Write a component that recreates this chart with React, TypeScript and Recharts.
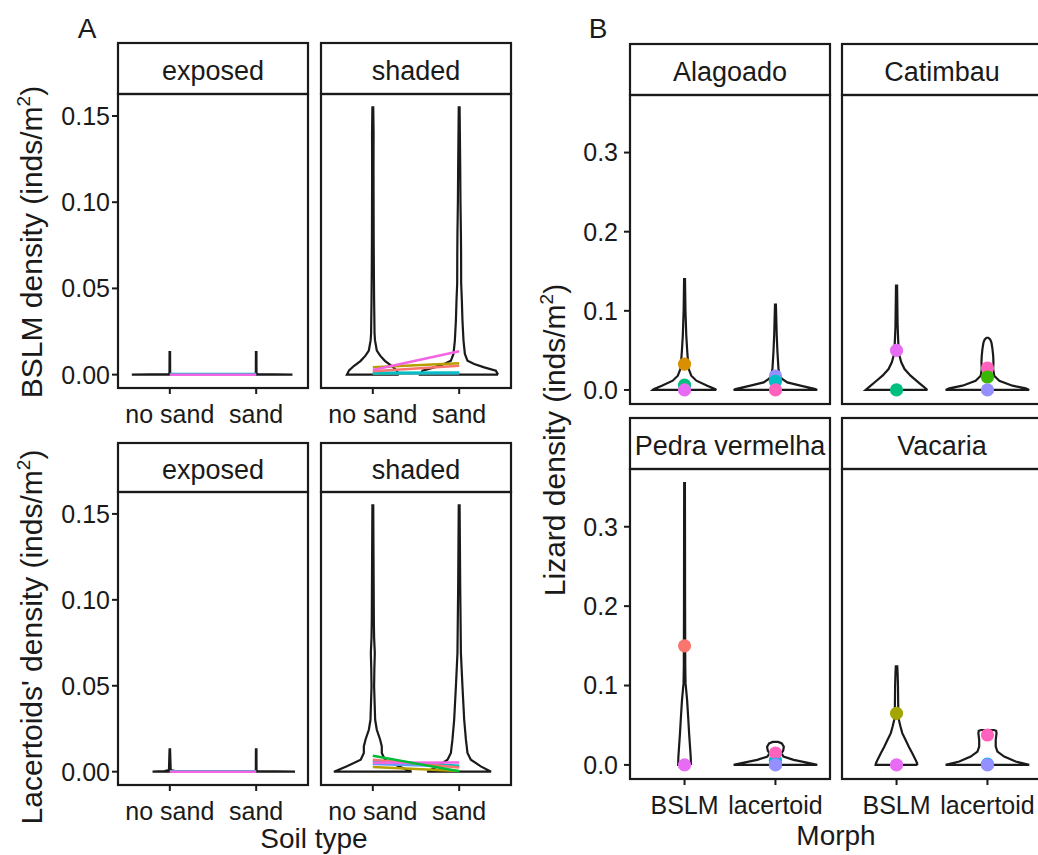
import React from 'react';
import { ComposedChart, Scatter, XAxis, YAxis } from 'recharts';

const FONT = '"Liberation Sans", Arial, Helvetica, sans-serif';
const INK = '#1a1a1a';

// categories and ticks
const soilTypes = ['no sand', 'sand'];
const morphs = ['BSLM', 'lacertoid'];
const lightLevels = ['exposed', 'shaded'];
const localities = ['Alagoado', 'Catimbau', 'Pedra vermelha', 'Vacaria'];
const ticksA = [0, 0.05, 0.1, 0.15];
const ticksB = [0, 0.1, 0.2, 0.3];
const domainA = [-0.00775, 0.16275];
const domainB = [-0.01775, 0.37275];

// site colours (ggplot hue)
const sitesA: Record<string, string> = {
  s1: '#F8766D', s2: '#B79F00', s3: '#00BA38', s4: '#00BFC4', s5: '#619CFF', s6: '#F564E3',
};
const sitesB: Record<string, string> = {
  g1: '#F8766D', g2: '#D89000', g3: '#A3A500', g4: '#39B600', g5: '#00BF7D',
  g6: '#00BFC4', g7: '#00B0F6', g8: '#9590FF', g9: '#E76BF3', g10: '#FF62BC',
};

// violin outlines: [density, half width in category units]
const bslmExposedNoSand = [[0, 0.44], [0.0003, 0.015], [0.001, 0.004], [0.013, 0.003]];
const bslmExposedSand = [[0, 0.42], [0.0003, 0.015], [0.001, 0.004], [0.013, 0.003]];
const bslmShadedNoSand = [
  [0, 0.3], [0.001, 0.29], [0.0025, 0.275], [0.005, 0.22], [0.008, 0.14], [0.011, 0.085],
  [0.014, 0.046], [0.02, 0.025], [0.024, 0.02], [0.043, 0.015], [0.062, 0.012], [0.08, 0.01],
  [0.1, 0.009], [0.12, 0.008], [0.14, 0.009], [0.155, 0.005],
];
const bslmShadedSand = [
  [0, 0.45], [0.0023, 0.425], [0.0042, 0.29], [0.0062, 0.174], [0.0081, 0.096], [0.012, 0.066],
  [0.0198, 0.05], [0.0314, 0.038], [0.043, 0.031], [0.053, 0.023], [0.07, 0.022], [0.082, 0.02],
  [0.1, 0.015], [0.12, 0.012], [0.155, 0.005],
];
const lacExposedNoSand = [[0, 0.2], [0.0003, 0.06], [0.001, 0.01], [0.013, 0.003]];
const lacExposedSand = [[0, 0.45], [0.0003, 0.015], [0.001, 0.004], [0.013, 0.003]];
const lacShadedNoSand = [
  [0, 0.45], [0.0031, 0.3], [0.007, 0.14], [0.0109, 0.104], [0.0147, 0.104], [0.0186, 0.085],
  [0.0244, 0.046], [0.0302, 0.027], [0.0496, 0.015], [0.06, 0.018], [0.069, 0.023], [0.078, 0.015],
  [0.088, 0.012], [0.127, 0.008], [0.155, 0.005],
];
const lacShadedSand = [
  [0, 0.37], [0.0031, 0.25], [0.007, 0.135], [0.0109, 0.096], [0.0186, 0.078], [0.0302, 0.058],
  [0.0496, 0.038], [0.069, 0.02], [0.107, 0.012], [0.155, 0.005],
];

const alagoadoBSLM = [
  [0, 0.35], [0.001, 0.34], [0.0054, 0.25], [0.0117, 0.13], [0.018, 0.074], [0.027, 0.044],
  [0.048, 0.03], [0.069, 0.019], [0.1, 0.01], [0.14, 0.005],
];
const alagoadoLac = [
  [0, 0.46], [0.001, 0.44], [0.0054, 0.275], [0.0096, 0.13], [0.0138, 0.074], [0.018, 0.047],
  [0.027, 0.033], [0.048, 0.022], [0.069, 0.014], [0.108, 0.005],
];
const catimbauBSLM = [
  [0, 0.34], [0.004, 0.3], [0.0097, 0.24], [0.018, 0.154], [0.0264, 0.088], [0.035, 0.052],
  [0.043, 0.033], [0.052, 0.022], [0.08, 0.012], [0.132, 0.006],
];
const catimbauLac = [
  [0, 0.46], [0.002, 0.42], [0.0054, 0.275], [0.0117, 0.13], [0.018, 0.074], [0.0264, 0.063],
  [0.035, 0.066], [0.043, 0.063], [0.052, 0.055], [0.06, 0.044], [0.064, 0.03], [0.066, 0.01],
];
const pedraBSLM = [
  [0, 0.07], [0.01, 0.068], [0.04, 0.05], [0.06, 0.04], [0.082, 0.028], [0.103, 0.011],
  [0.124, 0.008], [0.2, 0.006], [0.3, 0.005], [0.355, 0.004],
];
const pedraLac = [
  [0, 0.46], [0.002, 0.385], [0.0063, 0.2], [0.0105, 0.088], [0.0147, 0.066], [0.018, 0.085],
  [0.023, 0.092], [0.027, 0.07], [0.029, 0.03],
];
const vacariaBSLM = [
  [0, 0.23], [0.0025, 0.225], [0.0063, 0.21], [0.0147, 0.173], [0.023, 0.135], [0.0314, 0.1],
  [0.04, 0.063], [0.048, 0.044], [0.057, 0.025], [0.065, 0.019], [0.098, 0.016], [0.115, 0.012],
  [0.124, 0.008],
];
const vacariaLac = [
  [0, 0.46], [0.0042, 0.31], [0.0105, 0.184], [0.0168, 0.11], [0.023, 0.091], [0.0314, 0.091],
  [0.04, 0.1], [0.043, 0.095], [0.044, 0.07],
];

// site means joined across soil type: [site, no sand, sand]
const bslmExposedLines: [string, number, number][] = [['s4', 0.0003, 0.0003], ['s6', 0, 0]];
const bslmShadedLines: [string, number, number][] = [
  ['s3', 0.0005, 0.0008], ['s5', 0.0008, 0.0008], ['s4', 0.0011, 0.0012],
  ['s1', 0.002, 0.0052], ['s2', 0.0043, 0.0066], ['s6', 0.0027, 0.0136],
];
const lacExposedLines: [string, number, number][] = [['s4', 0.0002, 0.0002], ['s6', 0, 0]];
const lacShadedLines: [string, number, number][] = [
  ['s2', 0.0027, 0.0004], ['s5', 0.0045, 0.003], ['s4', 0.0062, 0.0035],
  ['s1', 0.007, 0.0025], ['s6', 0.0052, 0.0054], ['s3', 0.0093, 0.0002],
];

// site means per morph: [site, morph, density]
const alagoadoPoints: [string, string, number][] = [
  ['g2', 'BSLM', 0.0327], ['g5', 'BSLM', 0.006], ['g9', 'BSLM', 0],
  ['g8', 'lacertoid', 0.0176], ['g6', 'lacertoid', 0.011], ['g10', 'lacertoid', 0],
];
const catimbauPoints: [string, string, number][] = [
  ['g9', 'BSLM', 0.05], ['g5', 'BSLM', 0],
  ['g10', 'lacertoid', 0.0277], ['g4', 'lacertoid', 0.0164], ['g8', 'lacertoid', 0],
];
const pedraPoints: [string, string, number][] = [
  ['g1', 'BSLM', 0.15], ['g9', 'BSLM', 0],
  ['g6', 'lacertoid', 0.006], ['g10', 'lacertoid', 0.015], ['g7', 'lacertoid', 0.001], ['g8', 'lacertoid', 0],
];
const vacariaPoints: [string, string, number][] = [
  ['g3', 'BSLM', 0.065], ['g9', 'BSLM', 0],
  ['g10', 'lacertoid', 0.0377], ['g7', 'lacertoid', 0.001], ['g8', 'lacertoid', 0],
];

function outline(profile: number[][], center: number) {
  const right = profile.map(([y, w]) => ({ x: center + w, y }));
  const left = [...profile].reverse().map(([y, w]) => ({ x: center - w, y }));
  return [...right, ...left, right[0]];
}

const noMark = () => <g />;

type FacetProps = {
  x: number; y: number; w: number; h: number;
  domain: number[]; ticks: number[]; digits: number;
  labels: string[]; showX: boolean; showY: boolean; yMargin: number;
  violins: number[][][];
  lines?: [string, number, number][];
  points?: [string, string, number][];
};

function Facet(p: FacetProps) {
  const yW = p.showY ? 100 : 0;
  const xH = p.showX ? 45 : 0;
  const tickStyle = { fill: INK, fontSize: 25, fontFamily: FONT };
  return (
    <div style={{ position: 'absolute', left: p.x - yW, top: p.y }}>
      <ComposedChart width={p.w + yW} height={p.h + xH} margin={{ top: 0, right: 0, bottom: 0, left: 0 }}>
        <XAxis
          type="number" dataKey="x" domain={[0.4, 2.6]} ticks={[1, 2]} hide={!p.showX} height={xH}
          tickFormatter={(v: number) => p.labels[v - 1]} axisLine={false}
          tickLine={{ stroke: INK, strokeWidth: 2 }} tickSize={6} tickMargin={11} tick={tickStyle}
          interval={0}
        />
        <YAxis
          type="number" dataKey="y" domain={p.domain} ticks={p.ticks} hide={!p.showY} width={yW}
          tickFormatter={(v: number) => v.toFixed(p.digits)} axisLine={false}
          tickLine={{ stroke: INK, strokeWidth: 2 }} tickSize={6} tickMargin={p.yMargin} tick={tickStyle}
          interval={0}
        />
        {p.violins.map((v, i) => (
          <Scatter
            key={'v' + i}
            data={outline(v, i + 1)}
            line={{ stroke: INK, strokeWidth: 2.2 }}
            shape={noMark}
            isAnimationActive={false}
          />
        ))}
        {(p.lines || []).map(([site, a, b], i) => (
          <Scatter
            key={'l' + i}
            data={[{ x: 1, y: a }, { x: 2, y: b }]}
            line={{ stroke: sitesA[site], strokeWidth: 2.5 }}
            shape={noMark}
            isAnimationActive={false}
          />
        ))}
        {p.points && (
          <Scatter
            data={p.points.map(([site, morph, d]) => ({ x: morphs.indexOf(morph) + 1, y: d, site }))}
            shape={(s: any) => <circle cx={s.cx} cy={s.cy} r={6.6} fill={sitesB[s.payload.site]} />}
            isAnimationActive={false}
          />
        )}
      </ComposedChart>
    </div>
  );
}

const Strip = ({ x, y, w, h, label }: { x: number; y: number; w: number; h: number; label: string }) => (
  <g>
    <rect x={x} y={y} width={w} height={h} fill="#fff" stroke={INK} strokeWidth={2.2} />
    <text x={x + w / 2} y={y + h / 2 + 11} textAnchor="middle" fontSize={27} fill={INK} fontFamily={FONT}>
      {label}
    </text>
  </g>
);

const Border = ({ x, y, w, h }: { x: number; y: number; w: number; h: number }) => (
  <rect x={x} y={y} width={w} height={h} fill="none" stroke={INK} strokeWidth={2.2} />
);

const YTitle = ({ x, y, label }: { x: number; y: number; label: string }) => (
  <text transform={`translate(${x},${y}) rotate(-90)`} textAnchor="middle" fontSize={30} fill={INK} fontFamily={FONT}>
    {label} (inds/m<tspan fontSize={19} dy={-12}>2</tspan><tspan dy={12}>)</tspan>
  </text>
);

export default function App() {
  const A = [
    { x: 118, y: 94, w: 190, h: 294, strip: 43, light: 0, v: [bslmExposedNoSand, bslmExposedSand], lines: bslmExposedLines, showY: true },
    { x: 321, y: 94, w: 190, h: 294, strip: 43, light: 1, v: [bslmShadedNoSand, bslmShadedSand], lines: bslmShadedLines, showY: false },
    { x: 118, y: 492, w: 190, h: 293, strip: 443, light: 0, v: [lacExposedNoSand, lacExposedSand], lines: lacExposedLines, showY: true },
    { x: 321, y: 492, w: 190, h: 293, strip: 443, light: 1, v: [lacShadedNoSand, lacShadedSand], lines: lacShadedLines, showY: false },
  ];
  const B = [
    { x: 630, y: 95, w: 200, h: 309, strip: 44, loc: 0, v: [alagoadoBSLM, alagoadoLac], pts: alagoadoPoints, showY: true, showX: false },
    { x: 842, y: 95, w: 200, h: 309, strip: 44, loc: 1, v: [catimbauBSLM, catimbauLac], pts: catimbauPoints, showY: false, showX: false },
    { x: 630, y: 469, w: 200, h: 310, strip: 418, loc: 2, v: [pedraBSLM, pedraLac], pts: pedraPoints, showY: true, showX: true },
    { x: 842, y: 469, w: 200, h: 310, strip: 418, loc: 3, v: [vacariaBSLM, vacariaLac], pts: vacariaPoints, showY: false, showX: true },
  ];
  return (
    <div style={{ position: 'absolute', left: 0, top: 0, width: 1038, height: 855, overflow: 'hidden', background: '#fff' }}>
      {A.map((f, i) => (
        <Facet key={'a' + i} x={f.x} y={f.y} w={f.w} h={f.h} domain={domainA} ticks={ticksA} digits={2}
          labels={soilTypes} showX showY={f.showY} yMargin={2} violins={f.v} lines={f.lines} />
      ))}
      {B.map((f, i) => (
        <Facet key={'b' + i} x={f.x} y={f.y} w={f.w} h={f.h} domain={domainB} ticks={ticksB} digits={1}
          labels={morphs} showX={f.showX} showY={f.showY} yMargin={6} violins={f.v} points={f.pts} />
      ))}
      <svg width={1038} height={855} style={{ position: 'absolute', left: 0, top: 0, pointerEvents: 'none' }}>
        {A.map((f, i) => (
          <g key={'sa' + i}>
            <Strip x={f.x} y={f.strip} w={f.w} h={f.y - f.strip} label={lightLevels[f.light]} />
            <Border x={f.x} y={f.y} w={f.w} h={f.h} />
          </g>
        ))}
        {B.map((f, i) => (
          <g key={'sb' + i}>
            <Strip x={f.x} y={f.strip} w={f.w} h={f.y - f.strip} label={localities[f.loc]} />
            <Border x={f.x} y={f.y} w={f.w} h={f.h} />
          </g>
        ))}
        <text x={87} y={38} textAnchor="middle" fontSize={28} fill={INK} fontFamily={FONT}>A</text>
        <text x={598} y={38} textAnchor="middle" fontSize={28} fill={INK} fontFamily={FONT}>B</text>
        <YTitle x={42} y={242} label="BSLM density" />
        <YTitle x={42} y={637} label="Lacertoids' density" />
        <YTitle x={565} y={440} label="Lizard density" />
        <text x={314} y={848} textAnchor="middle" fontSize={28} fill={INK} fontFamily={FONT}>Soil type</text>
        <text x={836} y={845} textAnchor="middle" fontSize={28} fill={INK} fontFamily={FONT}>Morph</text>
      </svg>
    </div>
  );
}
